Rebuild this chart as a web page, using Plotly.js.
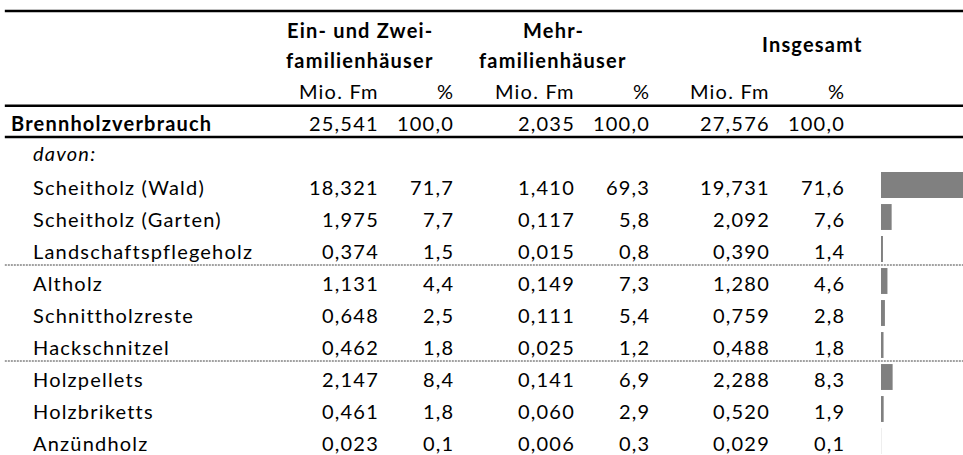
<!DOCTYPE html>
<html>
<head>
<meta charset="utf-8">
<script src="https://cdn.plot.ly/plotly-3.0.1.min.js"></script>
<style>
  body { margin: 0; background: #fff; }
  #plot { width: 963px; height: 455px; }
  /* Excel-Tabelle wirkt breiter gesperrt; gilt auch fuer Plotlys Messknoten */
  svg text { letter-spacing: 1.2px; }
</style>
</head>
<body>
<div id="plot"></div>
<script>
// Brennholzverbrauch nach Sortiment
var kategorien = ['Scheitholz (Wald)', 'Scheitholz (Garten)', 'Landschaftspflegeholz',
                  'Altholz', 'Schnittholzreste', 'Hackschnitzel',
                  'Holzpellets', 'Holzbriketts', 'Anzündholz'];

var efh_mio = [18.321, 1.975, 0.374, 1.131, 0.648, 0.462, 2.147, 0.461, 0.023];
var efh_pct = [71.7, 7.7, 1.5, 4.4, 2.5, 1.8, 8.4, 1.8, 0.1];
var mfh_mio = [1.410, 0.117, 0.015, 0.149, 0.111, 0.025, 0.141, 0.060, 0.006];
var mfh_pct = [69.3, 5.8, 0.8, 7.3, 5.4, 1.2, 6.9, 2.9, 0.3];
var ges_mio = [19.731, 2.092, 0.390, 1.280, 0.759, 0.488, 2.288, 0.520, 0.029];
var ges_pct = [71.6, 7.6, 1.4, 4.6, 2.8, 1.8, 8.3, 1.9, 0.1];

// Summenzeile
var summe_mio = [25.541, 2.035, 27.576];
var summe_pct = [100.0, 100.0, 100.0];

var einheiten = ['Mio. Fm', '%'];

// Layout: x in Pixel, y in Zeilen (Zeile 0 = Brennholzverbrauch)
var col_right = [381, 456, 577, 652, 772, 847];
var grp_center = [360, 553, 812];
var FONT = 'Lato, "Open Sans", sans-serif';
var FS = 20;

function fmt(v, d) {
    return v.toFixed(d).replace('.', ',');
}

function zeile(i) {      // Datenzeilen beginnen bei Zeile 2
    return i + 2;
}

var ann = [];
function txt(x, y, s, anchor) {
    ann.push({x: x, y: y, xref: 'x', yref: 'y', text: s, showarrow: false,
              xanchor: anchor, yanchor: 'middle',
              font: {family: FONT, size: FS, color: '#000'}});
}

// Kopf
txt(grp_center[0], -2.85, '<b>Ein- und Zwei-</b>', 'center');
txt(grp_center[0], -1.9, '<b>familienhäuser</b>', 'center');
txt(grp_center[1], -2.85, '<b>Mehr-</b>', 'center');
txt(grp_center[1], -1.9, '<b>familienhäuser</b>', 'center');
txt(grp_center[2], -2.42, '<b>Insgesamt</b>', 'center');
for (var c = 0; c < 6; c++) {
    txt(col_right[c], -0.95, einheiten[c % 2], 'right');
}

// Summenzeile
txt(9, 0.05, '<b>Brennholzverbrauch</b>', 'left');
for (var g = 0; g < 3; g++) {
    txt(col_right[2 * g], 0.05, fmt(summe_mio[g], 3), 'right');
    txt(col_right[2 * g + 1], 0.05, fmt(summe_pct[g], 1), 'right');
}
txt(31, 1.0, '<i>davon:</i>', 'left');

// Datenzeilen
var spalten = [efh_mio, efh_pct, mfh_mio, mfh_pct, ges_mio, ges_pct];
for (var i = 0; i < kategorien.length; i++) {
    var y = zeile(i) + 0.05;
    txt(31, y, kategorien[i], 'left');
    for (var c = 0; c < 6; c++) {
        txt(col_right[c], y, fmt(spalten[c][i], c % 2 ? 1 : 3), 'right');
    }
}

// Linien
var shapes = [];
function linie(y, w, dash) {
    shapes.push({type: 'line', xref: 'paper', yref: 'y', x0: 0.005, x1: 1, y0: y, y1: y,
                 line: {color: dash ? '#444' : '#000', width: w, dash: dash || 'solid'}});
}
linie(-3.44, 2.5);
linie(-0.48, 2.5);
linie(0.5, 2.5);
linie(zeile(2) + 0.5, 1, '2px,1px');
linie(zeile(5) + 0.5, 1, '2px,1px');

// Datenbalken (Anteil insgesamt)
var balken = {
    type: 'bar', orientation: 'h',
    x: ges_pct,
    y: kategorien.map(function (k, i) { return zeile(i); }),
    width: 0.81,
    marker: {color: '#808080', line: {width: 0}},
    xaxis: 'x2', yaxis: 'y',
    hoverinfo: 'skip'
};

var layout = {
    width: 963, height: 455,
    margin: {l: 0, r: 0, t: 0, b: 0},
    paper_bgcolor: '#fff', plot_bgcolor: 'rgba(0,0,0,0)',
    showlegend: false,
    xaxis: {range: [0, 963], visible: false, fixedrange: true},
    xaxis2: {domain: [881 / 963, 1], range: [0, 58.5], anchor: 'y', visible: false, fixedrange: true},
    yaxis: {range: [(455 - 121) / 32, -121 / 32], visible: false, fixedrange: true},
    annotations: ann,
    shapes: shapes
};

Plotly.newPlot('plot', [balken], layout, {displayModeBar: false, staticPlot: true});
</script>
</body>
</html>
